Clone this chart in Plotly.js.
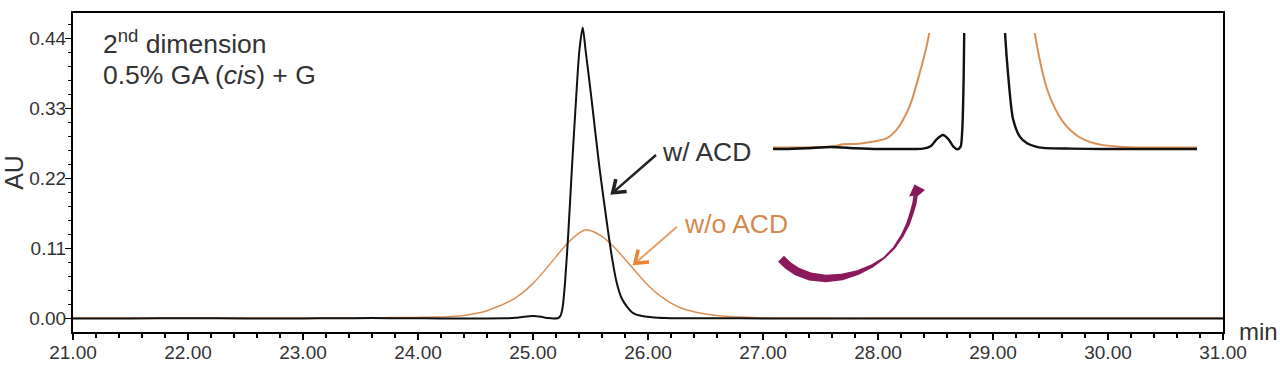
<!DOCTYPE html>
<html>
<head>
<meta charset="utf-8">
<script src="https://cdn.plot.ly/plotly-3.0.1.min.js"></script>
<style>html,body{margin:0;padding:0;background:#fff;}#chart{width:1280px;height:365px;}</style>
</head>
<body>
<div id="chart"></div>
<script>
// Retention time (min) and absorbance (AU) — with ACD (black)
const t_ACD = [21.0, 21.5, 22.0, 22.5, 23.0, 23.3, 23.6, 23.9, 24.2, 24.5, 24.75, 24.85, 24.92, 25.0, 25.07, 25.13, 25.18, 25.22, 25.241, 25.258, 25.278, 25.307, 25.339, 25.374, 25.403, 25.432, 25.458, 25.51, 25.577, 25.655, 25.69, 25.728, 25.77, 25.815, 25.875, 25.96, 26.05, 26.15, 26.25, 26.6, 27.0, 27.5, 28.0, 28.5, 29.0, 29.5, 30.0, 30.5, 31.0];
const au_ACD = [0, 0, 0.0001, 0, 0, 0.0002, 0.0005, 0.0002, 0, 0, 0.0001, 0.0008, 0.0025, 0.0036, 0.0025, 0.0006, -0.0001, 0.0006, 0.005, 0.018, 0.055, 0.134, 0.238, 0.343, 0.42, 0.457, 0.42, 0.343, 0.238, 0.134, 0.092, 0.056, 0.032, 0.019, 0.0078, 0.0032, 0.0015, 0.0007, 0.0003, 0.0001, 0, 0, 0, 0, 0, 0, 0, 0, 0];

// Without ACD (orange)
const t_noACD = [21.0, 22.0, 23.0, 23.5, 23.65, 23.75, 23.9, 24.0, 24.1, 24.2, 24.3, 24.4, 24.5, 24.6, 24.7, 24.8, 24.9, 25.0, 25.1, 25.2, 25.3, 25.4, 25.45, 25.5, 25.6, 25.7, 25.8, 25.9, 26.0, 26.1, 26.2, 26.3, 26.4, 26.5, 26.6, 26.7, 26.8, 26.9, 27.0, 27.2, 27.5, 28.0, 29.0, 30.0, 31.0];
const au_noACD = [0.0004, 0.0004, 0.0004, 0.0005, 0.0008, 0.0012, 0.0013, 0.0015, 0.0018, 0.0022, 0.0028, 0.0045, 0.0075, 0.012, 0.019, 0.027, 0.039, 0.055, 0.075, 0.097, 0.118, 0.134, 0.139, 0.138, 0.129, 0.113, 0.093, 0.072, 0.052, 0.036, 0.024, 0.0155, 0.0105, 0.007, 0.0047, 0.0031, 0.0021, 0.0014, 0.001, 0.0006, 0.0004, 0.0004, 0.0004, 0.0004, 0.0004];

// Tick labels
const xTickVals = [21, 22, 23, 24, 25, 26, 27, 28, 29, 30, 31];
const xTickText = ["21.00", "22.00", "23.00", "24.00", "25.00", "26.00", "27.00", "28.00", "29.00", "30.00", "31.00"];
const yTickVals = [0, 0.11, 0.22, 0.33, 0.44];
const yTickText = ["0.00", "0.11", "0.22", "0.33", "0.44"];

const labels = {
  title1: "2<sup>nd</sup> dimension",
  title2: "0.5% GA (<i>cis</i>) + G",
  withACD: "w/ ACD",
  withoutACD: "w/o ACD",
  xUnit: "min",
  yTitle: "AU"
};

// layout geometry (pixels)
const W = 1280, H = 365;
const M = {l: 73, r: 57, t: 13, b: 33};
const PW = W - M.l - M.r, PH = H - M.t - M.b;
const X = px => (px - M.l) / PW;
const Y = py => (H - M.b - py) / PH;
const P = (p, i) => (i === 0 ? "M" : "L") + X(p[0]).toFixed(5) + "," + Y(p[1]).toFixed(5);

const FONT = "Liberation Sans, Arial, sans-serif";
const BLACK = "#111111", ORANGE = "#DC8F55", PURPLE = "#8A1A5B";

const traces = [
  {x: t_noACD, y: au_noACD, type: "scatter", mode: "lines", name: "w/o ACD",
   line: {color: ORANGE, width: 1.5, shape: "spline", smoothing: 0.7}, hoverinfo: "skip"},
  {x: t_ACD, y: au_ACD, type: "scatter", mode: "lines", name: "w/ ACD",
   line: {color: BLACK, width: 2, shape: "spline", smoothing: 0.7}, hoverinfo: "skip"},
  {x: t_noACD, y: au_noACD, type: "scatter", mode: "lines", xaxis: "x2", yaxis: "y2", name: "w/o ACD (zoom)",
   line: {color: ORANGE, width: 2, shape: "spline", smoothing: 0.7}, hoverinfo: "skip"},
  {x: t_ACD, y: au_ACD, type: "scatter", mode: "lines", xaxis: "x2", yaxis: "y2", name: "w/ ACD (zoom)",
   line: {color: BLACK, width: 2.4, shape: "spline", smoothing: 0.7}, hoverinfo: "skip"}
];

// ---- decorations (pixel geometry -> paper coordinates) ----
function pointer(tail, tip, lineColor, headColor, lw, hw, arm) {
  const dx = tail[0] - tip[0], dy = tail[1] - tip[1];
  const L = Math.hypot(dx, dy), rx = dx / L, ry = dy / L;
  const a = 36 * Math.PI / 180, c = Math.cos(a), s = Math.sin(a);
  const a1 = [tip[0] + arm * (rx * c - ry * s), tip[1] + arm * (rx * s + ry * c)];
  const a2 = [tip[0] + arm * (rx * c + ry * s), tip[1] + arm * (-rx * s + ry * c)];
  const start = [tip[0] + rx * 2, tip[1] + ry * 2];
  return [
    {type: "path", xref: "paper", yref: "paper", path: [tail, start].map(P).join(" "),
     line: {color: lineColor, width: lw}},
    {type: "path", xref: "paper", yref: "paper", path: [a1, tip, a2].map(P).join(" "),
     line: {color: headColor, width: hw}}
  ];
}

// purple curved arrow: centerline + thickness
const C = [[781,258.7],[788,265.5],[797,271.5],[810,276.5],[826,278.5],[842,277],[858,272.5],[872,266],[884,258],[894,248],[902,236],[908,224],[912,212],[914.5,203],[915.5,196]];
const T = [8.5, 8.5, 8.3, 8, 7.5, 6.5, 5, 3.5, 2.2, 2.6, 3.2, 3.8, 4.2, 4.3, 4.3];
const outerE = [], innerE = [];
for (let i = 0; i < C.length; i++) {
  const a = C[Math.max(0, i - 1)], b = C[Math.min(C.length - 1, i + 1)];
  let dx = b[0] - a[0], dy = b[1] - a[1];
  const L = Math.hypot(dx, dy); dx /= L; dy /= L;
  const nx = -dy, ny = dx;
  outerE.push([C[i][0] + nx * T[i] / 2, C[i][1] + ny * T[i] / 2]);
  innerE.push([C[i][0] - nx * T[i] / 2, C[i][1] - ny * T[i] / 2]);
}
const headPts = [[925, 190], [914.5, 184.5], [909, 196.5]];
const swoosh = outerE.concat(headPts).concat(innerE.slice().reverse()).map(P).join(" ") + " Z";

const shapes = [
  {type: "path", xref: "paper", yref: "paper", path: swoosh, fillcolor: PURPLE, line: {width: 0}}
].concat(pointer([656, 155], [612.7, 192.7], "#222", "#222", 2.5, 3.6, 14))
 .concat(pointer([677, 226.7], [635, 263.3], "#E5A06A", "#EE8430", 2, 3.6, 14));

const layout = {
  width: W, height: H,
  margin: M,
  paper_bgcolor: "#fff", plot_bgcolor: "rgba(0,0,0,0)",
  showlegend: false,
  font: {family: FONT, color: "#333", size: 19},
  xaxis: {
    range: [21, 31], domain: [0, 1],
    tickvals: xTickVals, ticktext: xTickText,
    ticks: "outside", ticklen: 6, tickwidth: 1.5, tickcolor: "#000",
    minor: {dtick: 0.2, tick0: 21, ticks: "outside", ticklen: 3.5, tickwidth: 1.2, tickcolor: "#000"},
    showline: true, linecolor: "#000", linewidth: 2, mirror: true,
    showgrid: false, zeroline: false, ticklabelstandoff: -4,
    tickfont: {family: FONT, size: 19, color: "#333"}
  },
  yaxis: {
    range: [-0.0214, 0.4797], domain: [0, 1],
    tickvals: yTickVals, ticktext: yTickText,
    ticks: "outside", ticklen: 6, tickwidth: 1.5, tickcolor: "#000",
    minor: {dtick: 0.022, tick0: 0, ticks: "outside", ticklen: 3.5, tickwidth: 1.2, tickcolor: "#000"},
    showline: true, linecolor: "#000", linewidth: 2, mirror: true,
    showgrid: false, zeroline: false, ticklabelstandoff: -5,
    tickfont: {family: FONT, size: 19, color: "#333"},
    title: {text: labels.yTitle, font: {family: FONT, size: 25, color: "#333"}, standoff: 11}
  },
  xaxis2: {domain: [X(773), X(1197)], range: [22.875, 28.175], anchor: "y2", visible: false, fixedrange: true},
  yaxis2: {domain: [Y(152), Y(33)], range: [-0.00078, 0.03], anchor: "x2", visible: false, fixedrange: true},
  shapes: shapes,
  annotations: [
    {xref: "paper", yref: "paper", x: X(101), y: Y(42.5), xanchor: "left", yanchor: "middle",
     text: labels.title1, showarrow: false, font: {family: FONT, size: 26.5, color: "#333"}},
    {xref: "paper", yref: "paper", x: X(101), y: Y(75), xanchor: "left", yanchor: "middle",
     text: labels.title2, showarrow: false, font: {family: FONT, size: 26.5, color: "#333"}},
    {xref: "paper", yref: "paper", x: X(660), y: Y(152), xanchor: "left", yanchor: "middle",
     text: labels.withACD, showarrow: false, font: {family: FONT, size: 26.5, color: "#333"}},
    {xref: "paper", yref: "paper", x: X(682), y: Y(224), xanchor: "left", yanchor: "middle",
     text: labels.withoutACD, showarrow: false, font: {family: FONT, size: 26.5, color: "#D4894F"}},
    {xref: "paper", yref: "paper", x: X(1237), y: Y(331), xanchor: "left", yanchor: "middle",
     text: labels.xUnit, showarrow: false, font: {family: FONT, size: 24, color: "#333"}}
  ]
};

Plotly.newPlot("chart", traces, layout, {displayModeBar: false, staticPlot: true});
</script>
</body>
</html>
